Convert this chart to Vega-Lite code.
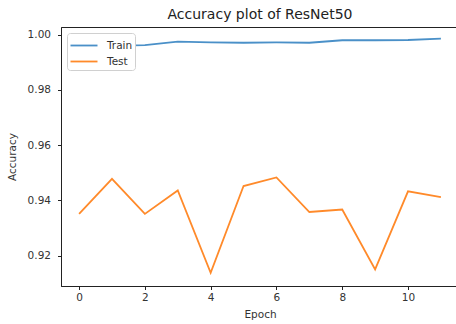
{
  "$schema": "https://vega.github.io/schema/vega-lite/v6.json",
  "width": 398,
  "height": 259,
  "autosize": {"type": "none"},
  "padding": {"left": 61, "top": 27, "right": 0, "bottom": 38},
  "background": "white",
  "config": {
    "font": "DejaVu Sans",
    "view": {"stroke": "#222", "strokeWidth": 1},
    "axis": {
      "grid": false,
      "domainColor": "#222",
      "tickColor": "#222",
      "tickSize": 3.5,
      "labelColor": "#333",
      "titleColor": "#333",
      "labelFont": "DejaVu Sans",
      "titleFont": "DejaVu Sans",
      "labelFontSize": 10.5,
      "titleFontSize": 10.5,
      "titleFontWeight": "normal"
    }
  },
  "title": {
    "text": "Accuracy plot of ResNet50",
    "font": "DejaVu Sans",
    "fontSize": 14,
    "fontWeight": "normal",
    "color": "#222",
    "offset": 5
  },
  "data": {
    "values": [
      {"epoch": 0, "series": "Train", "accuracy": 0.9955},
      {"epoch": 1, "series": "Train", "accuracy": 0.9960},
      {"epoch": 2, "series": "Train", "accuracy": 0.9962},
      {"epoch": 3, "series": "Train", "accuracy": 0.9975},
      {"epoch": 4, "series": "Train", "accuracy": 0.9972},
      {"epoch": 5, "series": "Train", "accuracy": 0.9971},
      {"epoch": 6, "series": "Train", "accuracy": 0.9972},
      {"epoch": 7, "series": "Train", "accuracy": 0.9971},
      {"epoch": 8, "series": "Train", "accuracy": 0.9980},
      {"epoch": 9, "series": "Train", "accuracy": 0.9980},
      {"epoch": 10, "series": "Train", "accuracy": 0.9981},
      {"epoch": 11, "series": "Train", "accuracy": 0.9986},
      {"epoch": 0, "series": "Test", "accuracy": 0.9351},
      {"epoch": 1, "series": "Test", "accuracy": 0.9478},
      {"epoch": 2, "series": "Test", "accuracy": 0.9351},
      {"epoch": 3, "series": "Test", "accuracy": 0.9436},
      {"epoch": 4, "series": "Test", "accuracy": 0.9138},
      {"epoch": 5, "series": "Test", "accuracy": 0.9452},
      {"epoch": 6, "series": "Test", "accuracy": 0.9483},
      {"epoch": 7, "series": "Test", "accuracy": 0.9358},
      {"epoch": 8, "series": "Test", "accuracy": 0.9367},
      {"epoch": 9, "series": "Test", "accuracy": 0.9150},
      {"epoch": 10, "series": "Test", "accuracy": 0.9433},
      {"epoch": 11, "series": "Test", "accuracy": 0.9412}
    ]
  },
  "mark": {"type": "line", "strokeWidth": 1.8, "clip": true},
  "encoding": {
    "x": {
      "field": "epoch",
      "type": "quantitative",
      "scale": {"domain": [-0.55, 11.55], "nice": false, "zero": false},
      "axis": {"values": [0, 2, 4, 6, 8, 10], "title": "Epoch", "titlePadding": 6, "labelPadding": 3}
    },
    "y": {
      "field": "accuracy",
      "type": "quantitative",
      "scale": {"domain": [0.909, 1.0028], "nice": false, "zero": false},
      "axis": {"values": [0.92, 0.94, 0.96, 0.98, 1.0], "format": ".2f", "title": "Accuracy", "titlePadding": 10, "labelPadding": 7}
    },
    "color": {
      "field": "series",
      "type": "nominal",
      "sort": ["Train", "Test"],
      "scale": {"domain": ["Train", "Test"], "range": ["#4a90c8", "#ff8a2a"]},
      "legend": {
        "title": null,
        "orient": "top-left",
        "offset": 5.5,
        "fillColor": "white",
        "strokeColor": "#d0d0d0",
        "cornerRadius": 3,
        "padding": 2.5,
        "symbolType": "M-1,0H2",
        "symbolSize": 324,
        "symbolStrokeWidth": 1.8,
        "labelFontSize": 10.5,
        "labelColor": "#333",
        "labelFont": "DejaVu Sans",
        "rowPadding": 0,
        "labelOffset": 17.5
      }
    }
  }
}
